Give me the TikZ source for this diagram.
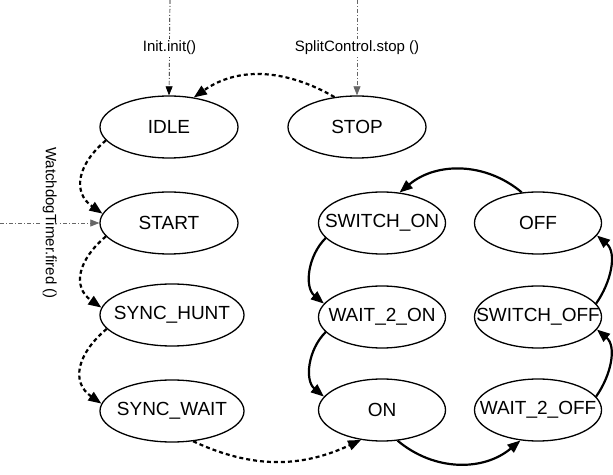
\documentclass[tikz,border=0pt]{standalone}
\usepackage{fontspec}
\setmainfont{Liberation Sans}
\usetikzlibrary{shapes.geometric,arrows.meta}

\begin{document}
\begin{tikzpicture}[
        x=1pt, y=1pt,
        state/.style={draw, ellipse, line width=1.3pt, minimum width=138pt, minimum height=62pt, inner xsep=-30pt, inner ysep=0pt, font=\fontsize{19}{21}\selectfont},
        widestate/.style={state, minimum width=144pt},
        radiostate/.style={state, minimum width=127pt},
        eventarrow/.style={-{Triangle[length=9pt,width=7pt]}, line width=0.7pt, dash pattern=on 4pt off 2pt on 1pt off 2pt},
        steparrow/.style={-{Triangle[length=13pt,width=10pt]}, line width=2.2pt, dash pattern=on 4pt off 3pt},
        radioarrow/.style={-{Triangle[length=13pt,width=10pt]}, line width=2.2pt},
        eventlabel/.style={fill=white, inner sep=2pt, font=\fontsize{15}{17}\selectfont}
    ]
    \useasboundingbox (0,0) rectangle (613,474);

    % ==========================================
    % LEFT: start-up states
    % ==========================================
    \node[state] (idle) at (169,347) {IDLE};
    \node[state] (stop) at (357,347) {STOP};
    \node[state] (start) at (169,251) {START};
    \node[widestate] (synchunt) at (172,159) {SYNC\_HUNT};
    \node[widestate] (syncwait) at (172,63) {SYNC\_WAIT};

    % ==========================================
    % RIGHT: radio states
    % ==========================================
    \node[radiostate] (switchon) at (382,251) {SWITCH\_ON};
    \node[radiostate] (off) at (538,251) {OFF};
    \node[radiostate] (wait2on) at (382,157) {WAIT\_2\_ON};
    \node[radiostate] (switchoff) at (538,157) {SWITCH\_OFF};
    \node[radiostate] (on) at (382,64) {ON};
    \node[radiostate] (wait2off) at (538,64) {WAIT\_2\_OFF};

    % events
    \coordinate (initsrc) at (170,474);
    \coordinate (stopsrc) at (357,474);
    \coordinate (wdogsrc) at (0,251);
    \draw[eventarrow] (initsrc) -- node[eventlabel, pos=0.5] {Init.init()} (idle.north);
    \draw[eventarrow, black!60] (stopsrc) -- node[eventlabel, pos=0.5, text=black] {SplitControl.stop ()} (stop.north);
    \draw[eventarrow, black!60] (wdogsrc) -- node[eventlabel, rotate=-90, text=black] {WatchdogTimer.fired ()} (start.west);

    % start-up sequence
    \draw[steparrow] (stop.127) to[out=150,in=35] (idle.50);
    \draw[steparrow] (idle.192) to[out=220,in=145, looseness=1.3] (start.172);
    \draw[steparrow] (start.192) to[out=220,in=145, looseness=1.3] (synchunt.174);
    \draw[steparrow] (synchunt.192) to[out=220,in=145, looseness=1.3] (syncwait.174);
    \draw[steparrow] (syncwait.-55) to[out=-25,in=205] (on.235);

    % radio cycle
    \draw[radioarrow] (off.118) to[out=140,in=40] (switchon.60);
    \draw[radioarrow] (switchon.195) to[out=225,in=140] (wait2on.167);
    \draw[radioarrow] (wait2on.195) to[out=225,in=140] (on.167);
    \draw[radioarrow] (on.-63) to[out=-40,in=220] (wait2off.240);
    \draw[radioarrow] (wait2off.13) to[out=55,in=-40] (switchoff.-12);
    \draw[radioarrow] (switchoff.13) to[out=55,in=-40] (off.-12);

\end{tikzpicture}
\end{document}
